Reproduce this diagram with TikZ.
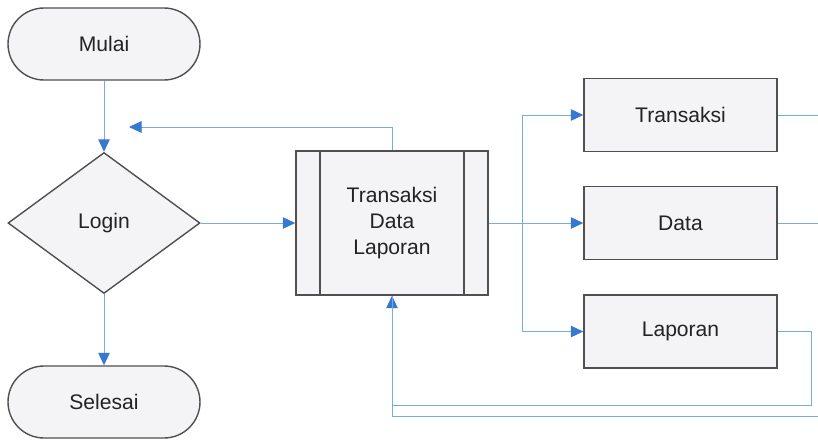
\documentclass[tikz,border=0pt]{standalone}
\usepackage{fontspec}
\setmainfont{Liberation Sans}
\usetikzlibrary{arrows.meta,shapes.geometric}

\definecolor{flowline}{RGB}{120,172,222}
\definecolor{flowhead}{RGB}{55,120,210}
\definecolor{boxedge}{RGB}{80,80,80}
\definecolor{boxfill}{RGB}{244,244,246}
\definecolor{boxtext}{RGB}{35,35,35}

\begin{document}
\begin{tikzpicture}[
                        ->,
                        >={Triangle[length=0.25cm,width=0.23cm,color=flowhead]},
                        draw=flowline,
                        line width=0.55pt,
                        node distance=3.58cm,
                        font=\fontsize{12}{15}\selectfont
                    ]
                    \tikzstyle{box}=[draw=boxedge,fill=boxfill,text=boxtext,line width=0.8pt]
                    \tikzstyle{terminal}=[box,rounded corners=0.72cm,minimum width=3.84cm,minimum height=1.44cm]
                    \tikzstyle{decision}=[box,diamond,inner sep=0pt,minimum width=3.84cm,minimum height=2.82cm]
                    \tikzstyle{process}=[box,minimum width=3.86cm,minimum height=1.46cm]
                    \tikzstyle{subprocess}=[box,align=center,minimum width=3.84cm,minimum height=2.88cm,
                        path picture={
                            \draw[-,boxedge,line width=0.8pt]
                                ([xshift=0.48cm]path picture bounding box.north west) -- ([xshift=0.48cm]path picture bounding box.south west)
                                ([xshift=-0.48cm]path picture bounding box.north east) -- ([xshift=-0.48cm]path picture bounding box.south east);
                        }]

                    \clip (0,0) rectangle (16.36,8.82);

                    \node[terminal]   (mulai)   at (2.08,7.94)           {Mulai} ;
                    \node[decision]   (login)   [below of=mulai]         {Login} ;
                    \node[terminal]   (selesai) [below of=login]         {Selesai} ;
                    \node[subprocess] (proses)  [right of=login, node distance=5.76cm] {Transaksi\\Data\\Laporan} ;
                    \node[process]    (data)    [right of=proses, node distance=5.77cm] {Data} ;
                    \node[process]    (transaksi) [above of=data, node distance=2.16cm] {Transaksi} ;
                    \node[process]    (laporan) [below of=data, node distance=2.17cm] {Laporan} ;

                    \coordinate (kembali) at (2.58,6.28) ;
                    \coordinate (cabang)  at ([xshift=2.6cm]proses.center) ;
                    \coordinate (putar)   at (16.22,0.72) ;
                    \coordinate (tepi)    at (16.5,0.5) ;

                    \draw (mulai) -- (login) ;
                    \draw (login) -- (selesai) ;
                    \draw (login) -- (proses) ;
                    \draw (proses.north) |- (kembali) ;
                    \draw (proses) -- (data) ;
                    \draw (cabang) |- (transaksi) ;
                    \draw (cabang) |- (laporan) ;
                    \draw (laporan) -| (putar) -| (proses) ;
                    \draw[-] (transaksi) -- (transaksi -| tepi) -- (tepi) -| (proses) ;
                    \draw[-] (data) -- (data -| tepi) ;
                \end{tikzpicture}
\end{document}
